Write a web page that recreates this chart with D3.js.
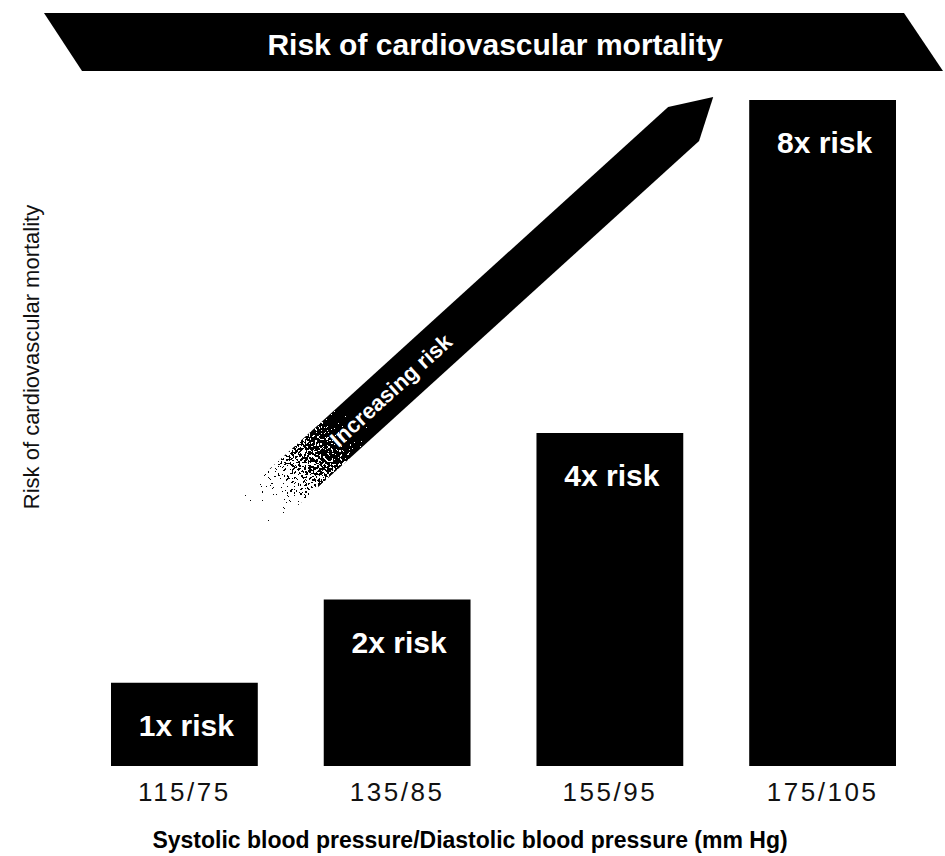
<!DOCTYPE html>
<html>
<head>
<meta charset="utf-8">
<script src="https://cdn.jsdelivr.net/npm/d3@7"></script>
<style>
  body { margin: 0; background: #fff; }
  text { font-family: "Liberation Sans", Arial, sans-serif; }
</style>
</head>
<body>
<div id="chart"></div>
<script>
// values
var categories = ["115/75", "135/85", "155/95", "175/105"];
var riskValues = [1, 2, 4, 8];
var riskLabels = ["1x risk", "2x risk", "4x risk", "8x risk"];
var chartTitle = "Risk of cardiovascular mortality";
var yTitle = "Risk of cardiovascular mortality";
var xTitle = "Systolic blood pressure/Diastolic blood pressure (mm Hg)";
var arrowText = "Increasing risk";

var width = 945, height = 856;

var svg = d3.select("#chart")
    .append("svg")
    .attr("width", width)
    .attr("height", height);

var defs = svg.append("defs");

// scales
var x = d3.scaleBand()
    .domain(categories)
    .range([111, 896])
    .paddingInner(0.31)
    .paddingOuter(0);

var y = d3.scaleLinear()
    .domain([0, 8])
    .range([766, 100]);

// title banner (slanted black band)
var banner = svg.append("g");
banner.append("path")
    .attr("d", "M44,13 L904,13 L943,71 L82,71 Z")
    .attr("fill", "#000");
banner.append("text")
    .attr("x", 495)
    .attr("y", 55)
    .attr("text-anchor", "middle")
    .attr("fill", "#fff")
    .style("font-size", "30px")
    .style("font-weight", "bold")
    .text(chartTitle);

// bars
svg.append("g")
    .selectAll("rect")
    .data(riskValues)
    .enter()
    .append("rect")
    .attr("x", function (d, i) { return x(categories[i]); })
    .attr("y", function (d) { return y(d); })
    .attr("width", x.bandwidth())
    .attr("height", function (d) { return y(0) - y(d); })
    .attr("fill", "#000");

// labels inside bars
svg.append("g")
    .selectAll("text")
    .data(riskValues)
    .enter()
    .append("text")
    .attr("x", function (d, i) { return x(categories[i]) + x.bandwidth() / 2 + 2; })
    .attr("y", function (d) { return y(d) + 53; })
    .attr("text-anchor", "middle")
    .attr("fill", "#fff")
    .style("font-size", "30px")
    .style("font-weight", "bold")
    .text(function (d, i) { return riskLabels[i]; });

// x axis: labels only
var xAxis = svg.append("g")
    .attr("transform", "translate(0," + y(0) + ")")
    .call(d3.axisBottom(x).tickSize(0).tickPadding(17));
xAxis.select(".domain").remove();
xAxis.selectAll("text")
    .style("font-family", "'Liberation Sans', Arial, sans-serif")
    .style("font-size", "26px")
    .style("letter-spacing", "2.5px")
    .attr("fill", "#111");

// axis titles
svg.append("text")
    .attr("x", 470)
    .attr("y", 848)
    .attr("text-anchor", "middle")
    .attr("fill", "#000")
    .style("font-size", "23px")
    .style("font-weight", "bold")
    .text(xTitle);

svg.append("text")
    .attr("transform", "translate(39,357) rotate(-90)")
    .attr("text-anchor", "middle")
    .attr("fill", "#111")
    .style("font-size", "22px")
    .text(yTitle);

// "Increasing risk" arrow, tail dithered away
var tail = [x(categories[0]) + x.bandwidth() - 6, y(3)];
var tip = [x(categories[3]) - 36, y(8) - 3];
var dx = tip[0] - tail[0], dy = tip[1] - tail[1];
var len = Math.sqrt(dx * dx + dy * dy);
var angle = Math.atan2(dy, dx) * 180 / Math.PI;
var half = 23, head = 40;

var grad = defs.append("linearGradient")
    .attr("id", "fade")
    .attr("gradientUnits", "userSpaceOnUse")
    .attr("x1", -50).attr("y1", 0)
    .attr("x2", 205).attr("y2", 0);
grad.append("stop").attr("offset", 0).attr("stop-color", "#000");
grad.append("stop").attr("offset", 1).attr("stop-color", "#fff");

var dither = defs.append("filter")
    .attr("id", "dither")
    .attr("color-interpolation-filters", "sRGB")
    .attr("x", 0).attr("y", 0).attr("width", 1).attr("height", 1);
dither.append("feTurbulence")
    .attr("type", "fractalNoise")
    .attr("baseFrequency", 0.55)
    .attr("numOctaves", 1)
    .attr("seed", 4)
    .attr("result", "noise");
dither.append("feColorMatrix")
    .attr("in", "noise")
    .attr("type", "matrix")
    .attr("values", "1 0 0 0 0  1 0 0 0 0  1 0 0 0 0  0 0 0 0 1")
    .attr("result", "grey");
dither.append("feComposite")
    .attr("in", "SourceGraphic")
    .attr("in2", "grey")
    .attr("operator", "arithmetic")
    .attr("k1", 0).attr("k2", 2).attr("k3", 2.5).attr("k4", -1.75)
    .attr("result", "mix");
var ct = dither.append("feComponentTransfer").attr("in", "mix");
["feFuncR", "feFuncG", "feFuncB"].forEach(function (f) {
    ct.append(f).attr("type", "discrete").attr("tableValues", "0 1");
});
ct.append("feFuncA").attr("type", "linear").attr("slope", 0).attr("intercept", 1);

var mask = defs.append("mask")
    .attr("id", "arrowMask")
    .attr("maskUnits", "userSpaceOnUse")
    .attr("x", -10).attr("y", -40)
    .attr("width", len + 20).attr("height", 80);
mask.append("rect")
    .attr("x", -10).attr("y", -40)
    .attr("width", len + 20).attr("height", 80)
    .attr("fill", "url(#fade)")
    .attr("filter", "url(#dither)");

var arrow = svg.append("g")
    .attr("transform", "translate(" + tail[0] + "," + tail[1] + ") rotate(" + angle + ")");
arrow.append("path")
    .attr("d", "M0," + (-half) + " L" + (len - head) + "," + (-half) +
        " L" + len + ",0 L" + (len - head) + "," + half + " L0," + half + " Z")
    .attr("fill", "#000")
    .attr("mask", "url(#arrowMask)");
arrow.append("text")
    .attr("x", 110)
    .attr("y", 8)
    .attr("fill", "#fff")
    .style("font-size", "22px")
    .style("font-weight", "bold")
    .text(arrowText);
</script>
</body>
</html>
